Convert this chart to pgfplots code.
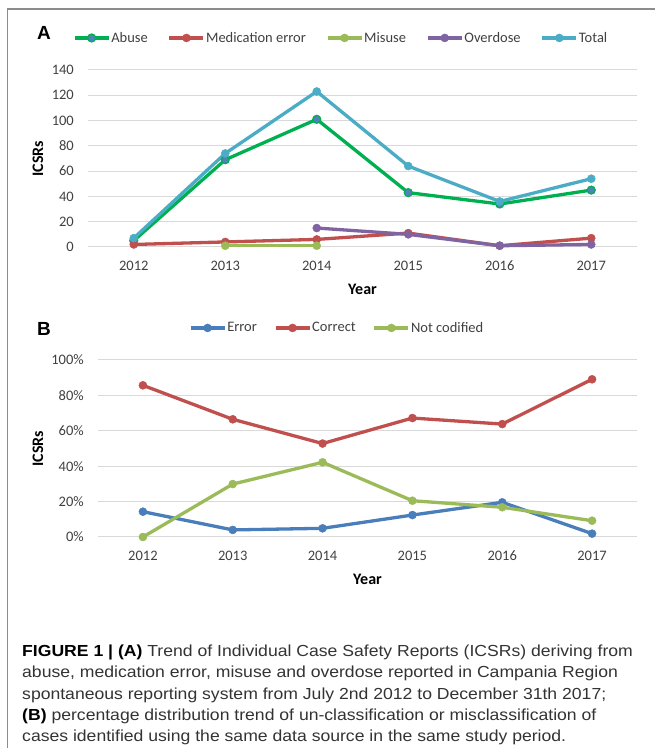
\documentclass[border=0pt]{standalone}
\usepackage{fontspec}
\setmainfont{Carlito}
\newfontfamily\capfont{Liberation Sans}
\usepackage{pgfplots}
\pgfplotsset{compat=1.18}

\definecolor{abuse}{HTML}{00B050}
\definecolor{abusefill}{HTML}{4F81BD}
\definecolor{mederr}{HTML}{C0504D}
\definecolor{misuse}{HTML}{9BBB59}
\definecolor{overdose}{HTML}{8064A2}
\definecolor{total}{HTML}{4BACC6}
\definecolor{err}{HTML}{4A7EBB}
\definecolor{gridc}{HTML}{D9D9D9}
\definecolor{txt}{HTML}{404040}
\definecolor{framec}{HTML}{8C8C8C}
\definecolor{captxt}{HTML}{333333}

\pgfplotsset{
  excel/.style={
    scale only axis,
    axis line style={draw=none},
    tick style={draw=none},
    ymajorgrids, grid style={color=gridc, line width=1bp},
    clip=false,
    xmin=2011.5, xmax=2017.5,
    xtick={2012,...,2017},
    /pgf/number format/assume math mode=true,
    /pgf/number format/1000 sep={},
    tick label style={font=\fontsize{14.5bp}{16bp}\selectfont, color=txt},
    y tick label style={anchor=east, inner sep=0pt, xshift=-14bp},
    x tick label style={anchor=north, inner sep=0pt, yshift=-14bp},
    label style={font=\bfseries\fontsize{16bp}{18bp}\selectfont, color=black},
    xlabel style={at={(axis description cs:0.5,-0.237)}, anchor=center},
    legend columns=5,
    legend cell align=left,
    legend image code/.code={
      \draw[mark repeat=2, mark phase=2] plot coordinates {(0bp,0bp) (17bp,0bp) (34bp,0bp)};
    },
    legend style={draw=none, fill=none, inner sep=0pt, outer sep=0pt, anchor=west,
      font=\fontsize{14.5bp}{16bp}\selectfont, text=txt,
      nodes={inner sep=1bp}},
    every axis plot/.append style={line width=3.3bp, mark=*, mark size=4bp},
  },
  ser/.style={color=#1, mark options={solid, fill=#1, draw=#1, line width=0.5bp}},
}

\begin{document}
\begin{tikzpicture}
\useasboundingbox (0,0) rectangle (655bp,748bp);
\draw[color=framec, line width=1.3bp] (7.5bp,0bp) -- (7.5bp,739bp) -- (655bp,739bp);

\node[font=\capfont\bfseries\fontsize{19bp}{19bp}\selectfont, inner sep=0pt] at (44bp,715bp) {A};
\node[font=\capfont\bfseries\fontsize{19bp}{19bp}\selectfont, inner sep=0pt] at (44bp,419bp) {B};

% panel A: counts
\begin{axis}[excel,
  at={(88bp,501bp)}, anchor=south west,
  width=549bp, height=177bp,
  ymin=0, ymax=140, ytick={0,20,...,140},
  xlabel={Year}, ylabel={ICSRs},
  ylabel style={at={(axis description cs:-0.0911,0.5)}, anchor=center},
  legend style={at={(-0.0273,1.181)},
    /tikz/every even column/.append style={column sep=19bp}},
]
\addplot[color=abuse, mark options={solid, fill=abusefill, draw=abuse, line width=1.2bp}] coordinates {
  (2012,5) (2013,69) (2014,101) (2015,43) (2016,34) (2017,45)};
\addlegendentry{Abuse}
\addplot[ser=mederr] coordinates {
  (2012,2) (2013,4) (2014,6) (2015,11) (2016,1) (2017,7)};
\addlegendentry{Medication error}
\addplot[ser=misuse] coordinates {
  (2013,1) (2014,1)};
\addlegendentry{Misuse}
\addplot[ser=overdose] coordinates {
  (2014,15) (2015,10) (2016,1) (2017,2)};
\addlegendentry{Overdose}
\addplot[ser=total] coordinates {
  (2012,7) (2013,74) (2014,123) (2015,64) (2016,36) (2017,54)};
\addlegendentry{Total}
\end{axis}

% panel B: percentages
\begin{axis}[excel,
  at={(98bp,211bp)}, anchor=south west,
  width=539bp, height=177bp,
  ymin=0, ymax=100, ytick={0,20,...,100},
  yticklabel={\pgfmathprintnumber{\tick}\%},
  xlabel={Year}, ylabel={ICSRs},
  ylabel style={at={(axis description cs:-0.1113,0.5)}, anchor=center},
  legend style={at={(0.1688,1.181)},
    /tikz/every even column/.append style={column sep=16bp}},
]
\addplot[ser=err] coordinates {
  (2012,14.3) (2013,4.0) (2014,4.9) (2015,12.4) (2016,19.6) (2017,1.9)};
\addlegendentry{Error}
\addplot[ser=mederr] coordinates {
  (2012,85.7) (2013,66.5) (2014,52.8) (2015,67.2) (2016,63.8) (2017,89.1)};
\addlegendentry{Correct}
\addplot[ser=misuse] coordinates {
  (2012,0) (2013,29.9) (2014,42.2) (2015,20.5) (2016,16.8) (2017,9.2)};
\addlegendentry{Not codified}
\end{axis}

% caption
\begin{scope}[every node/.style={anchor=base west, inner sep=0pt, text=captxt,
    font=\capfont\fontsize{16bp}{16bp}\selectfont}]
\node at (22bp,91.5bp) {\scalebox{1.1}[1]{\textbf{\color{black}FIGURE 1 | (A)} Trend of Individual Case Safety Reports (ICSRs) deriving from}};
\node at (22bp,70.2bp) {\scalebox{1.1}[1]{abuse, medication error, misuse and overdose reported in Campania Region}};
\node at (22bp,48.9bp) {\scalebox{1.1}[1]{spontaneous reporting system from July 2nd 2012 to December 31th 2017;}};
\node at (22bp,27.6bp) {\scalebox{1.1}[1]{\textbf{\color{black}(B)} percentage distribution trend of un-classification or misclassification of}};
\node at (22bp,6.3bp) {\scalebox{1.1}[1]{cases identified using the same data source in the same study period.}};
\end{scope}
\end{tikzpicture}
\end{document}
